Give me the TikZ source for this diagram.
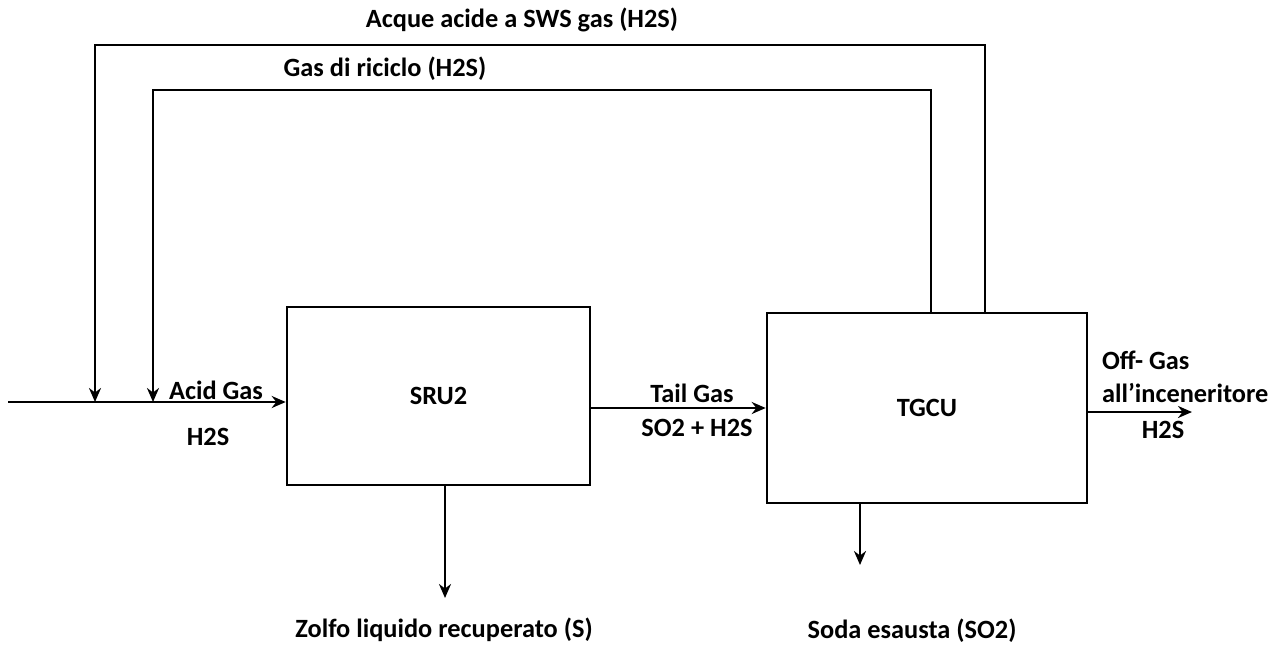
\documentclass[tikz,border=0pt]{standalone}
\usepackage{fontspec}
\setmainfont{Carlito}
\usetikzlibrary{arrows.meta, positioning}
\tikzset{
  every picture/.style={font=\bfseries, line width=1.5pt},
  unit/.style={draw, align=center, font=\bfseries\fontsize{15}{17}\selectfont},
  flow/.style={-{Stealth[length=2.8mm, width=2.4mm]}},
  tag/.style={font=\bfseries\fontsize{15}{17}\selectfont, inner sep=1pt},
}

\begin{document}
\begin{tikzpicture}[x=0.02cm, y=-0.02cm]
  \useasboundingbox (0,0) rectangle (1279,647);
  % units
  \node[unit, minimum width=6.06cm, minimum height=3.56cm] (sru) at (438.5,396) {SRU2};
  \node[unit, minimum width=6.4cm, minimum height=3.8cm] (tgcu) at (927,408) {TGCU};
  % free ends
  \coordinate (feed) at (8,402);
  \coordinate (offgas) at (1192,412);
  \coordinate (sulfur) at (445,598);
  \coordinate (soda) at (860,565);
  \coordinate (swsup) at (985,45);
  \coordinate (swsin) at (95,402);
  \coordinate (ricup) at (931,90);
  \coordinate (ricin) at (153,402);
  % main line
  \draw[flow] (feed) -- (feed -| sru.west);
  \draw[flow] (sru.east |- tgcu.west) -- (tgcu.west);
  \draw[flow] (tgcu.east |- offgas) -- (offgas);
  % recycles
  \draw[flow] (tgcu.north -| swsup) -- (swsup) -| (swsin);
  \draw[flow] (tgcu.north -| ricup) -- (ricup) -| (ricin);
  % products
  \draw[flow] (sru.south -| sulfur) -- (sulfur);
  \draw[flow] (tgcu.south -| soda) -- (soda);
  % labels
  \node[tag] (swslbl) at (522,20) {Acque acide a SWS gas (H2S)};
  \node[tag] (riclbl) at (385,69) {Gas di riciclo (H2S)};
  \node[tag] (acidlbl) at (216,390) {Acid Gas};
  \node[tag] (acidsub) at (208,437) {H2S};
  \node[tag] (taillbl) at (692,393) {Tail Gas};
  \node[tag] (tailsub) at (697,428) {SO2 + H2S};
  \node[tag, anchor=west] (offlbl) at (1099,360) {Off- Gas};
  \node[tag, anchor=west] (incilbl) at (1099,393) {all'inceneritore};
  \node[tag] (offsub) at (1163,430) {H2S};
  \node[tag] (sulflbl) at (444,630) {Zolfo liquido recuperato (S)};
  \node[tag] (sodalbl) at (912,631) {Soda esausta (SO2)};
\end{tikzpicture}
\end{document}
